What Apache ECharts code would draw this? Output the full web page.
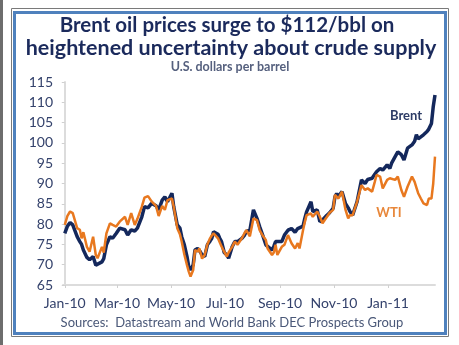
<!DOCTYPE html>
<html>
<head>
<meta charset="utf-8">
<script src="https://cdn.jsdelivr.net/npm/echarts@6/dist/echarts.min.js"></script>
<style>html,body{margin:0;padding:0;background:#fff;}#c{width:459px;height:345px;}</style>
</head>
<body>
<div id="c"></div>
<script>
// Day offsets from 1 Jan 2010
const days = [0,3,6,9,14,17,19,21,25,28,32,35,37,42,44,47,51,54,58,62,68,71,75,79,82,87,90,94,98,103,106,110,113,116,121,123,127,130,132,135,138,140,142,145,147,150,152,155,158,161,164,166,168,173,175,177,180,183,185,189,192,195,200,203,205,209,213,217,220,224,227,229,234,236,238,240,245,248,252,256,260,263,265,269,271,273,278,280,285,288,291,296,299,303,305,307,309,313,317,320,322,325,330,335,339,342,347,350,352,356,359,364,367,369,373,376,380,383,387,392,395,397,399,402,405,409,411,414,416,418];
const brent = [77.7,79.5,80.4,79.8,76.9,75.7,75,73.6,71.8,71.2,72,69.9,69.5,70.7,71.5,74.9,76.9,76.5,77.7,79,78.6,77.3,78.6,78.3,79,81.8,84.3,84,85.1,84.5,83.5,85.9,86.7,85.5,87.6,84.3,79.8,79,76.9,74.9,72,69.5,68.7,70,73.6,74,73.5,72.4,72,74.9,75.8,76.5,78.1,77.5,76.5,75.7,73,72.4,71.6,74.4,75.7,75.7,76.5,77.3,78.2,78.5,83.5,81.4,79.4,76.9,74.9,75,73.6,74.5,75.7,76.1,75.7,77.3,78.5,78.9,78,78.9,78.5,79.5,81.4,83,85.5,83.1,83.5,80.6,81,82.2,82.8,83.9,86.7,87.5,86.8,88,85,84,83.1,82.2,85.5,90.9,90,91,91.3,92.3,92.9,93.7,93.3,94.6,93.7,95,96.6,97.8,97.1,95.8,98.7,99.5,100.4,102,101,101.5,102,102.8,103.4,104.8,108.9,111.8];
const wti = [79.8,82,83.1,82.7,79,78.6,76.5,78,74.4,73.2,76.9,72.4,71.6,74.4,73,77.7,80.2,79.8,79.4,80.6,81.8,79.8,82.7,79.8,81.3,84.3,86.5,86.9,85.6,84.5,82,84.5,83.5,85.9,86.3,84.3,79,77.5,75.7,72.5,69.9,68.3,67.1,68.7,73.6,73.2,74,71.5,72.4,75,76.5,77.2,77.7,76.5,76.9,74.5,73.2,72,73,74.4,75.7,74.9,76.5,77.8,78.5,77,81.4,81,78.5,77,76.1,74,72.4,73,74.9,72.4,74.4,74.9,77.3,75.3,74,75.3,74,78.5,80.5,82.2,82.6,81.8,83.1,81.8,80.2,81.8,82.8,83.5,87.2,87.4,86.3,88,83.5,81.4,82.2,82.2,85.5,89.6,88.4,88.8,88,90.4,92.1,91.7,88.8,90.9,91.3,91.7,90.9,91.7,88.4,86.7,89.2,91.7,90.4,89,87.6,86.3,85.1,84.7,86.3,86.3,90,96.6];
const tickDays = [0,59,120,181,243,304,365];
const tickLabels = ['Jan-10','Mar-10','May-10','Jul-10','Sep-10','Nov-10','Jan-11'];

const chart = echarts.init(document.getElementById('c'), null, {renderer:'canvas'});
const navy = '#14285c';
const orange = '#e8781f';
const labelColor = '#34426c';
chart.setOption({
  animation: false,
  backgroundColor: '#fff',
  grid: {left: 63, top: 82, width: 372, height: 203, containLabel: false},
  xAxis: {
    type: 'value', min: -2, max: 418,
    axisLine: {show: true, lineStyle: {color: '#dcdcdc', width: 2}},
    axisTick: {show: true, customValues: tickDays, length: 3, lineStyle: {color: '#d0d0d0'}},
    axisLabel: {customValues: tickDays, formatter: v => tickLabels[tickDays.indexOf(v)] || '',
      color: labelColor, fontFamily: 'Lato', fontSize: 14, margin: 11},
    splitLine: {show: false}
  },
  yAxis: {
    type: 'value', min: 65, max: 115, interval: 5,
    axisLine: {show: true, lineStyle: {color: '#dcdcdc', width: 2}},
    axisTick: {show: true, length: 3, lineStyle: {color: '#d0d0d0'}},
    axisLabel: {color: labelColor, fontFamily: 'Lato', fontSize: 14, margin: 10},
    splitLine: {show: false}
  },
  series: [
    {name: 'Brent', type: 'line', showSymbol: false, data: days.map((d,i)=>[d, brent[i]]),
     lineStyle: {color: navy, width: 3.5}, z: 2},
    {name: 'WTI', type: 'line', showSymbol: false, data: days.map((d,i)=>[d, wti[i]]),
     lineStyle: {color: orange, width: 2.5}, z: 3}
  ],
  graphic: [
    {type: 'rect', shape: {x: 0, y: 0, width: 3, height: 345}, style: {fill: '#6d6d6d'}, silent: true},
    {type: 'rect', shape: {x: 11.5, y: 8.5, width: 437, height: 328}, style: {fill: 'none', stroke: '#7a7a7a', lineWidth: 1}, silent: true},
    {type: 'rect', shape: {x: 14.5, y: 12.5, width: 431, height: 321}, style: {fill: 'none', stroke: '#4f81bd', lineWidth: 3}, silent: true},
    {type: 'text', x: 227, y: 25, style: {text: 'Brent oil prices surge to $112/bbl on', fill: '#1b2a5c', font: 'bold 20.5px Lato', textAlign: 'center', textVerticalAlign: 'middle'}},
    {type: 'text', x: 231, y: 48, style: {text: 'heightened uncertainty about crude supply', fill: '#1b2a5c', font: 'bold 21.5px Lato', textAlign: 'center', textVerticalAlign: 'middle'}},
    {type: 'text', x: 230, y: 67, style: {text: 'U.S. dollars per barrel', fill: '#55607e', font: 'bold 12.5px Lato', textAlign: 'center', textVerticalAlign: 'middle'}},
    {type: 'text', x: 232, y: 323, style: {text: 'Sources:  Datastream and World Bank DEC Prospects Group', fill: '#4a5878', font: '13px Lato', textAlign: 'center', textVerticalAlign: 'middle'}},
    {type: 'text', x: 406, y: 116, style: {text: 'Brent', fill: '#2d3c66', font: 'bold 13px Lato', textAlign: 'center', textVerticalAlign: 'middle'}},
    {type: 'text', x: 389, y: 213, style: {text: 'WTI', fill: '#e8873a', font: 'bold 13px Lato', textAlign: 'center', textVerticalAlign: 'middle'}}
  ]
});
</script>
</body>
</html>
